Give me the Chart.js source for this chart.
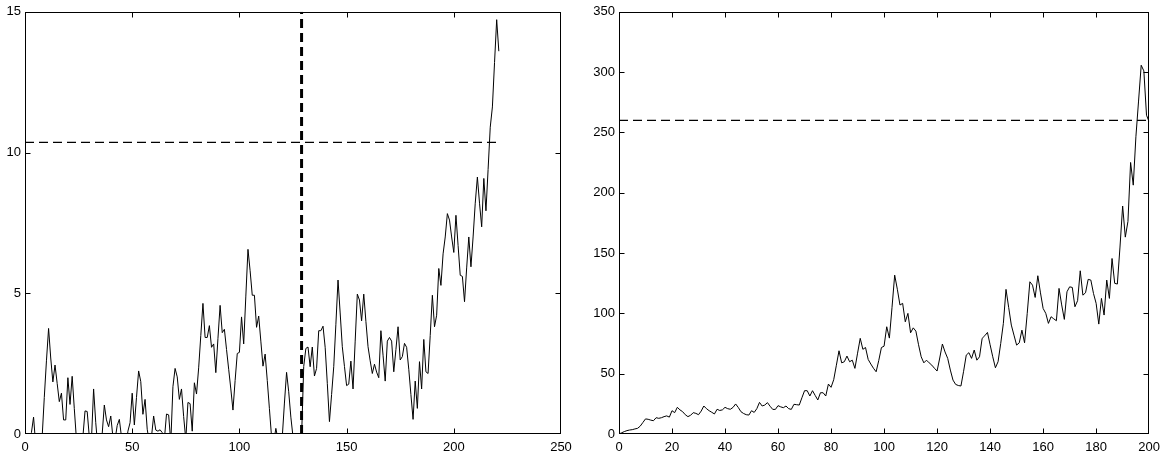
<!DOCTYPE html>
<html>
<head>
<meta charset="utf-8">
<script src="https://cdn.jsdelivr.net/npm/chart.js@4/dist/chart.umd.min.js"></script>
<style>
  html, body { margin: 0; padding: 0; background: #fff; }
  #wrap { position: relative; width: 1166px; height: 452px; }
  canvas { position: absolute; top: 0; }
  #leftChart { left: 0; }
  #rightChart { left: 580px; }
</style>
</head>
<body>
<div id="wrap">
  <canvas id="leftChart" width="580" height="452"></canvas>
  <canvas id="rightChart" width="586" height="452"></canvas>
</div>
<script>
// left panel: one value per step, steps 1..221
const leftValues = [
  -0.5, -0.1, 0.05, 0.6, -0.4, -0.8, -0.6, -0.1, 1.3, 2.6,
  3.75, 2.7, 1.85, 2.45, 1.8, 1.15, 1.45, 0.5, 0.5, 2.0,
  1.05, 2.05, 0.9, -0.2, -0.7, -0.5, -0.1, 0.82, 0.8, -0.1,
  -0.2, 1.6, 0.4, -0.5, -0.4, 0, 1.03, 0.5, 0.26, 0.64,
  -0.1, -0.2, 0.3, 0.52, -0.1, -0.6, -0.5, 0.1, 0.4, 1.45,
  0.32, 1.3, 2.24, 1.86, 0.7, 1.23, 0.17, -0.3, -0.1, 0.64,
  0.14, 0.1, 0.15, 0.05, -0.2, 0.71, 0.68, -0.3, 1.68, 2.33,
  2.03, 1.23, 1.6, 0.62, -0.2, 1.12, 1.08, 0.1, 1.82, 1.42,
  2.35, 3.5, 4.64, 3.43, 3.43, 3.85, 3.08, 3.2, 2.18, 3.4,
  4.57, 3.6, 3.72, 3.0, 2.3, 1.6, 0.85, 1.9, 2.86, 2.9,
  4.16, 3.2, 4.9, 6.56, 5.8, 4.93, 4.93, 3.79, 4.19, 3.3,
  2.41, 2.84, 1.9, 0.9, -0.1, -0.3, 0.2, -0.2, -0.4, -0.1,
  1.1, 2.19, 1.5, 0.6, -0.1, -0.5, -0.6, -0.4, -0.1, 2.4,
  3.04, 3.09, 2.39, 3.09, 2.06, 2.33, 3.67, 3.67, 3.83, 3.08,
  1.8, 0.44, 1.4, 2.39, 3.9, 5.47, 4.3, 3.1, 2.4, 1.72,
  1.77, 2.59, 1.6, 3.3, 4.97, 4.76, 4.02, 4.97, 4.0, 3.1,
  2.6, 2.15, 2.48, 2.2, 2.0, 3.67, 2.8, 1.88, 3.3, 3.43,
  3.3, 2.21, 3.0, 3.81, 2.63, 2.75, 3.22, 3.08, 2.3, 1.4,
  0.52, 1.88, 0.91, 2.57, 1.6, 3.36, 2.21, 2.15, 3.5, 4.93,
  3.81, 4.22, 5.88, 5.28, 6.4, 7.0, 7.83, 7.6, 7.0, 6.45,
  7.77, 6.7, 5.64, 5.6, 4.7, 5.9, 7.0, 5.94, 7.0, 8.2,
  9.13, 8.2, 7.36, 9.08, 7.93, 9.4, 10.9, 11.62, 13.2, 14.72,
  13.6
];
const leftLevel = 10.36;
const leftSplit = 129;
const leftXTicks = [0, 50, 100, 150, 200, 250];
const leftYTicks = [0, 5, 10, 15];

// right panel: steps 0..200
const rightValues = [
  0, 1, 2, 2.8, 3.3, 3.6, 4.2, 4.7, 6.5, 9.5,
  12.5, 12.2, 11.5, 11, 13.5, 13, 13.5, 14.4, 15, 14,
  19.3, 17.7, 22.1, 20, 18.5, 16, 14.4, 15.5, 17.7, 17.1,
  16, 19, 23.2, 21, 19.3, 18, 16.6, 20.5, 19.5, 20,
  22.1, 21, 20.5, 22, 24.9, 22, 18.5, 17, 16, 15.7,
  19.3, 17.9, 21, 26.2, 23.2, 24, 26, 23, 20.4, 20.4,
  23.5, 22.5, 21.8, 23.2, 21, 20.4, 24.6, 24.3, 24, 30,
  35.9, 35.9, 31.5, 35.9, 32, 28.2, 34.2, 34.2, 31.5, 41.4,
  38.7, 45, 57, 69, 59, 59.9, 64.6, 59.9, 61.2, 54.4,
  67, 79.3, 70.2, 71.7, 61.8, 58, 54.5, 51.6, 61, 71.7,
  72.8, 88.9, 79.5, 105, 131.7, 120, 106.9, 108.3, 93, 100,
  83.9, 88, 85.3, 74, 64, 59, 61.2, 59, 57.1, 54.5,
  52.2, 63, 74.6, 68, 62.7, 53, 44.7, 41.1, 40.2, 39.8,
  52, 65.4, 67.4, 62.7, 69.6, 61.2, 64, 79.3, 81.5, 84.2,
  74, 64, 54.9, 59.9, 75, 91.7, 119.9, 105, 90.3, 82,
  73.7, 75.6, 86.1, 75.6, 100, 126.2, 123.4, 113.2, 131.2, 117,
  104.1, 100, 91.7, 97.2, 95.5, 93.9, 120.7, 107, 95, 117.9,
  122, 121.5, 105.5, 110.5, 135.3, 115.1, 117.1, 128.2, 127.6, 116.5,
  108.3, 91.1, 112.4, 98.6, 127.6, 112.4, 145.5, 124.9, 124.3, 155,
  189, 163.2, 176.2, 225.1, 206.3, 246.4, 276, 305.7, 301, 264.3,
  258.8
];
const rightLevel = 260;
const rightXTicks = [0, 20, 40, 60, 80, 100, 120, 140, 160, 180, 200];
const rightYTicks = [0, 50, 100, 150, 200, 250, 300, 350];

Chart.defaults.font.family = "'Liberation Sans', Arial, sans-serif";
Chart.defaults.font.size = 13;
Chart.defaults.color = '#000';

// box round the plot area, with short ticks pointing inwards on every side
const frameTicks = {
  id: 'frameTicks',
  afterDatasetsDraw(chart) {
    const { ctx, chartArea: a, scales } = chart;
    const len = 5;
    const l = Math.round(a.left) + 0.5, r = Math.round(a.right) - 0.5;
    const t = Math.round(a.top) + 0.5, b = Math.round(a.bottom) - 0.5;
    ctx.save();
    ctx.strokeStyle = '#000';
    ctx.lineWidth = 1;
    ctx.setLineDash([]);
    ctx.beginPath();
    // ticks at the ends sit on the frame itself, so skip them
    scales.x.ticks.slice(1, -1).forEach(tk => {
      const px = Math.round(scales.x.getPixelForValue(tk.value)) + 0.5;
      ctx.moveTo(px, b); ctx.lineTo(px, b - len);
      ctx.moveTo(px, t); ctx.lineTo(px, t + len);
    });
    scales.y.ticks.slice(1, -1).forEach(tk => {
      const py = Math.round(scales.y.getPixelForValue(tk.value)) + 0.5;
      ctx.moveTo(l, py); ctx.lineTo(l + len, py);
      ctx.moveTo(r, py); ctx.lineTo(r - len, py);
    });
    ctx.stroke();
    ctx.strokeRect(l, t, r - l, b - t);
    ctx.restore();
  }
};

function fixedScale(ticks, size, horizontal) {
  return {
    type: 'linear',
    min: ticks[0],
    max: ticks[ticks.length - 1],
    afterBuildTicks: s => { s.ticks = ticks.map(v => ({ value: v })); },
    afterFit: s => {
      if (horizontal) s.height = size;
      else s.width = size;
    },
    grid: { display: false, drawTicks: false },
    border: { display: false },
    ticks: { padding: horizontal ? 6 : 4, maxRotation: 0, autoSkip: false, color: '#000' }
  };
}

function lineSet(points, width, dash) {
  return {
    data: points,
    borderColor: '#000',
    borderWidth: width,
    borderDash: dash || [],
    pointRadius: 0,
    tension: 0,
    fill: false
  };
}

function makePanel(id, datasets, xTicks, yTicks, yWidth, padRight) {
  return new Chart(document.getElementById(id), {
    type: 'line',
    data: { datasets },
    options: {
      responsive: false,
      animation: false,
      devicePixelRatio: 1,
      parsing: false,
      layout: { padding: { top: 11.5, right: padRight, bottom: 0, left: 0 } },
      scales: {
        x: fixedScale(xTicks, 18, true),
        y: fixedScale(yTicks, yWidth, false)
      },
      plugins: { legend: { display: false }, tooltip: { enabled: false } }
    },
    plugins: [frameTicks]
  });
}

const leftPoints = leftValues.map((v, i) => ({ x: i + 1, y: v }));
const rightPoints = rightValues.map((v, i) => ({ x: i, y: v }));
const leftTop = leftYTicks[leftYTicks.length - 1];

makePanel('leftChart', [
  lineSet(leftPoints, 1),
  lineSet([{ x: 0, y: leftLevel }, { x: leftValues.length, y: leftLevel }], 1.2, [9, 5]),
  lineSet([{ x: leftSplit, y: 0 }, { x: leftSplit, y: leftTop }], 3, [9, 5])
], leftXTicks, leftYTicks, 25, 19);

makePanel('rightChart', [
  lineSet(rightPoints, 1),
  lineSet([{ x: 0, y: rightLevel }, { x: rightValues.length - 1, y: rightLevel }], 1.2, [9, 5])
], rightXTicks, rightYTicks, 39, 11);
</script>
</body>
</html>
